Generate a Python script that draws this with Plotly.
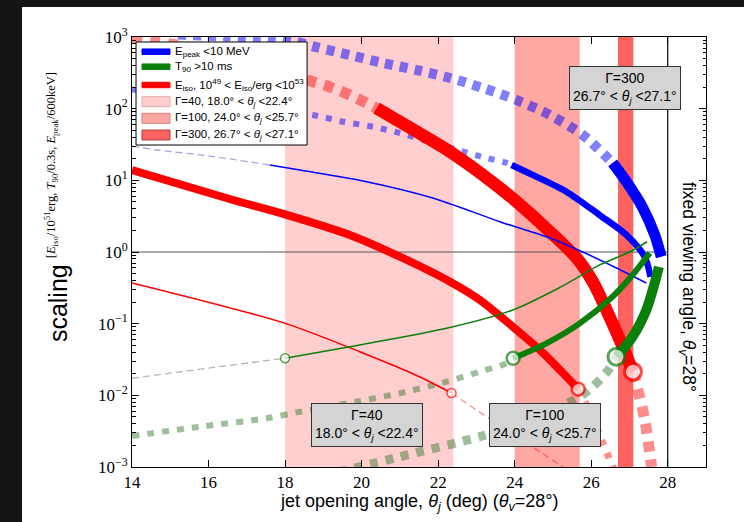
import plotly.graph_objects as go

# ------------------------------------------------------------------ data
theta_v = 28.0
y_unity = 1.0
band_g40 = (18.0, 22.4)
band_g100 = (24.0, 25.7)
band_g300 = (26.7, 27.1)

# Gamma = 40 (thin lines)
epk40_out_t = [14.0, 14.65, 16.0, 17.6]
epk40_out_y = [30.1, 26.5, 21.9, 16.4]
epk40_in_t = [17.6, 18.39, 20.13, 21.86, 23.61, 24.92, 25.78, 26.66, 27.44]
epk40_in_y = [16.4, 13.9, 9.57, 5.67, 2.65, 1.57, 1.0, 0.598, 0.369]
t90_40_out_t = [14.0, 16.0, 18.0]
t90_40_out_y = [0.0173, 0.0240, 0.0329]
t90_40_in_t = [18.0, 19.95, 22.22, 23.95, 25.18, 26.22, 27.0, 27.46]
t90_40_in_y = [0.0329, 0.0504, 0.0861, 0.155, 0.32, 0.66, 1.0, 1.39]
eiso40_in_t = [14.0, 18.0, 19.95, 21.34, 22.35]
eiso40_in_y = [0.37, 0.101, 0.0406, 0.020, 0.0108]
eiso40_out_t = [22.35, 23.04, 23.87, 24.79, 25.26]
eiso40_out_y = [0.0108, 0.00605, 0.00308, 0.00147, 0.001]

# Gamma = 100 (medium lines)
epk100_out_t = [14.0, 16.0, 18.73, 19.52, 20.29, 21.0, 21.78, 22.57, 23.26, 23.79, 23.92]
epk100_out_y = [185, 140, 81.6, 65.8, 56.0, 45.7, 34.6, 26.0, 20.5, 17.5, 16.4]
epk100_in_t = [23.92, 24.47, 25.35, 26.22, 26.92, 27.40, 27.55]
epk100_in_y = [16.4, 11.9, 6.94, 3.28, 1.73, 0.85, 0.45]
t90_100_out_t = [14.0, 15.78, 17.52, 18.39, 19.87, 21.0, 22.22, 23.09, 23.79, 23.96]
t90_100_out_y = [0.00271, 0.00365, 0.00478, 0.00591, 0.00815, 0.0107, 0.0155, 0.0214, 0.0280, 0.0329]
t90_100_in_t = [23.96, 24.83, 25.70, 26.56, 27.08, 27.53]
t90_100_in_y = [0.0329, 0.0532, 0.101, 0.238, 0.477, 0.968]
eiso100_in_t = [14.0, 16.64, 18.04, 19.69, 21.0, 22.31, 23.09, 23.95, 24.66, 25.26, 25.66]
eiso100_in_y = [13.9, 5.32, 3.3, 1.73, 0.859, 0.385, 0.214, 0.0907, 0.0429, 0.0205, 0.0122]
eiso100_out_t = [25.66, 26.0, 26.3, 26.6]
eiso100_out_y = [0.0122, 0.0055, 0.0022, 0.0009]

# Gamma = 300 (thick lines)
epk300_out_t = [15.2, 16.5, 17.6, 18.3, 18.82, 19.69, 20.56, 21.44, 22.31, 23.17, 24.05, 24.92, 25.78, 26.56]
epk300_out_y = [1080, 1010, 960, 850, 720, 561, 434, 346, 268, 194, 132, 81.6, 42.9, 17.5]
epk300_in_t = [26.56, 26.92, 27.35, 27.66, 27.83]
epk300_in_y = [17.5, 9.57, 4.11, 1.73, 0.859]
t90_300_out_t = [19.4, 21.0, 23.09, 24.5, 25.70, 26.04, 26.30, 26.48, 26.66]
t90_300_out_y = [0.00085, 0.00139, 0.00265, 0.00468, 0.00957, 0.0132, 0.0182, 0.0238, 0.0346]
t90_300_in_t = [26.66, 27.08, 27.44, 27.66, 27.77]
t90_300_in_y = [0.0346, 0.0658, 0.155, 0.37, 0.62]
eiso300_out_t = [14.0, 15.25, 16.56, 17.87, 18.73, 19.25, 19.69, 20.13, 20.39]
eiso300_out_y = [960, 760, 540, 340, 238, 194, 155, 120, 102]
eiso300_in_t = [20.39, 21.44, 22.31, 23.17, 24.05, 24.92, 25.62, 26.04, 26.40, 26.82, 27.09]
eiso300_in_y = [102, 47.7, 25.1, 11.9, 5.04, 1.92, 0.825, 0.385, 0.155, 0.0485, 0.0214]
eiso300_out2_t = [27.09, 27.19, 27.40, 27.58]
eiso300_out2_y = [0.0214, 0.0139, 0.00453, 0.001]

# boundary markers (open circles)
t90_mark_t = [18.0, 23.96, 26.66]
t90_mark_y = [0.0329, 0.0329, 0.0346]
eiso_mark_t = [22.35, 25.66, 27.09]
eiso_mark_y = [0.0108, 0.0122, 0.0214]

ytick_vals = [1e-3, 1e-2, 1e-1, 1e0, 1e1, 1e2, 1e3]
ytick_text = ["10<sup>−3</sup>", "10<sup>−2</sup>", "10<sup>−1</sup>", "10<sup>0</sup>",
              "10<sup>1</sup>", "10<sup>2</sup>", "10<sup>3</sup>"]
xtick_vals = [14, 16, 18, 20, 22, 24, 26, 28]

legend_labels = [
    "E<sub>peak</sub> &lt;10 MeV",
    "T<sub>90</sub> &gt;10 ms",
    "E<sub>iso</sub>, 10<sup>49</sup> &lt; E<sub>iso</sub>/erg &lt;10<sup>53</sup>",
    "Γ=40, 18.0° &lt; <i>θ<sub>j</sub></i> &lt;22.4°",
    "Γ=100, 24.0° &lt; <i>θ<sub>j</sub></i> &lt;25.7°",
    "Γ=300, 26.7° &lt; <i>θ<sub>j</sub></i> &lt;27.1°",
]

# ------------------------------------------------------------------ style
BLUE, GREEN, RED = "#0000ff", "#0a800a", "#ff0000"
BLUE_L = "rgba(0,0,255,0.5)"
GREEN_L = "rgba(40,110,40,0.45)"
RED_L = "rgba(255,0,0,0.45)"
BLUE_T = "rgba(60,60,180,0.45)"
GREEN_T = "rgba(80,100,80,0.45)"
RED_T = "rgba(255,0,0,0.45)"
BAND40, BAND100, BAND300 = "#ffcfcf", "#ffa7a3", "#fd625e"
SERIF = "Liberation Serif"
SANS = "Liberation Sans"

fig = go.Figure()


def seg(t, y, color, width, dash="solid"):
    fig.add_trace(go.Scatter(
        x=t, y=y, mode="lines", showlegend=False, hoverinfo="skip",
        line=dict(color=color, width=width, dash=dash, shape="spline", smoothing=0.8)))


# out-of-range (dashed / dotted) parts
seg(epk40_out_t, epk40_out_y, BLUE_T, 1.3, "7px,4px")
seg(t90_40_out_t, t90_40_out_y, GREEN_T, 1.3, "7px,4px")
seg(eiso40_out_t, eiso40_out_y, RED_T, 1.3, "7px,4px")
seg(epk100_out_t, epk100_out_y, BLUE_L, 6, "6px,8px")
seg(t90_100_out_t, t90_100_out_y, GREEN_L, 6, "7px,8px")
seg(eiso100_out_t, eiso100_out_y, RED_L, 7, "6px,8px")
seg(epk300_out_t, epk300_out_y, BLUE_L, 10, "8px,7px")
seg(t90_300_out_t, t90_300_out_y, GREEN_L, 9, "8px,8px")
seg(eiso300_out_t, eiso300_out_y, RED_L, 11, "10px,8px")
seg(eiso300_out2_t, eiso300_out2_y, RED_L, 11, "10px,8px")

# allowed (solid) parts
seg(eiso40_in_t, eiso40_in_y, RED, 1.5)
seg(eiso100_in_t, eiso100_in_y, RED, 8)
seg(eiso300_in_t, eiso300_in_y, RED, 12.5)
seg(epk40_in_t, epk40_in_y, BLUE, 1.5)
seg(epk100_in_t, epk100_in_y, BLUE, 6.5)
seg(epk300_in_t, epk300_in_y, BLUE, 11)
seg(t90_40_in_t, t90_40_in_y, GREEN, 1.5)
seg(t90_100_in_t, t90_100_in_y, GREEN, 6)
seg(t90_300_in_t, t90_300_in_y, GREEN, 10)

# boundary circles
fig.add_trace(go.Scatter(
    x=t90_mark_t, y=t90_mark_y, mode="markers", showlegend=False, hoverinfo="skip",
    marker=dict(symbol="circle", color="white", size=[9, 13, 17],
                line=dict(color=GREEN, width=[1.5, 2.5, 3]))))
fig.add_trace(go.Scatter(
    x=eiso_mark_t, y=eiso_mark_y, mode="markers", showlegend=False, hoverinfo="skip",
    marker=dict(symbol="circle", color="white", size=[9, 13, 17],
                line=dict(color=RED, width=[1.5, 2.5, 3]))))

# ------------------------------------------------------------------ shapes
shapes = [
    dict(type="rect", xref="paper", yref="paper", x0=-0.1916, x1=1.08, y0=-0.2, y1=1.0698,
         fillcolor="white", line=dict(width=0), layer="below"),
]
for (a, b), col in [(band_g40, BAND40), (band_g100, BAND100), (band_g300, BAND300)]:
    shapes.append(dict(type="rect", xref="x", yref="paper", x0=a, x1=b, y0=0, y1=1,
                       fillcolor=col, line=dict(width=0), layer="below"))
shapes.append(dict(type="line", xref="x", yref="y", x0=14, x1=theta_v, y0=y_unity, y1=y_unity,
                   line=dict(color="#555555", width=1), layer="below"))
shapes.append(dict(type="line", xref="x", yref="paper", x0=theta_v, x1=theta_v, y0=0, y1=1,
                   line=dict(color="black", width=1.2), layer="below"))

# legend box (drawn by hand, on top of the curves)
shapes.append(dict(type="rect", xref="paper", yref="paper", x0=0.007, x1=0.305,
                   y0=0.7488, y1=0.9884, fillcolor="white",
                   line=dict(color="black", width=1), layer="above"))
leg_y = [0.9658, 0.9309, 0.8884, 0.8495, 0.8109, 0.7721]
leg_fill = [BLUE, GREEN, RED, BAND40, BAND100, BAND300]
leg_edge = [BLUE, GREEN, RED, "#e0a8a8", "#d08480", "#a84440"]
leg_half = [0.0064, 0.0064, 0.0064, 0.0116, 0.0116, 0.0116]
for yc, fc, ec, hh in zip(leg_y, leg_fill, leg_edge, leg_half):
    shapes.append(dict(type="rect", xref="paper", yref="paper", x0=0.0174, x1=0.0662,
                       y0=yc - hh, y1=yc + hh, fillcolor=fc,
                       line=dict(color=ec, width=1), layer="above"))

box = dict(bgcolor="#d4d4d4", bordercolor="#333333", borderwidth=1, borderpad=3,
           font=dict(family=SANS, size=14, color="black"), showarrow=False,
           xref="paper", yref="paper", xanchor="center", yanchor="middle")
annotations = [
    dict(text="Γ=300<br>26.7° &lt; <i>θ<sub>j</sub></i> &lt;27.1°", x=0.859, y=0.881, **box),
    dict(text="Γ=40<br>18.0° &lt; <i>θ<sub>j</sub></i> &lt;22.4°", x=0.409, y=0.098, **box),
    dict(text="Γ=100<br>24.0° &lt; <i>θ<sub>j</sub></i> &lt;25.7°", x=0.7195, y=0.098, **box),
    dict(text="fixed viewing angle, <i>θ<sub>v</sub></i>=28°", x=0.9686, y=0.4186,
         xref="paper", yref="paper", showarrow=False, textangle=90,
         xanchor="center", yanchor="middle",
         font=dict(family=SANS, size=17.5, color="black")),
    dict(text="jet opening angle, <i>θ<sub>j</sub></i> (deg) (<i>θ<sub>v</sub></i>=28°)",
         x=0.5, y=-0.0825, xref="paper", yref="paper", showarrow=False,
         xanchor="center", yanchor="middle",
         font=dict(family=SANS, size=18, color="black")),
    dict(text="scaling", x=-0.129, y=0.381, xref="paper", yref="paper", showarrow=False,
         textangle=-90, xanchor="center", yanchor="middle",
         font=dict(family=SANS, size=25, color="black")),
    dict(text="[<i>E</i><sub>iso</sub>/10<sup>51</sup>erg, <i>T</i><sub>90</sub>/0.3s, "
              "<i>E</i><sub>peak</sub>/600keV]",
         x=-0.141, y=0.702, xref="paper", yref="paper", showarrow=False,
         textangle=-90, xanchor="center", yanchor="middle",
         font=dict(family=SERIF, size=12.5, color="black")),
]
for yc, lab in zip(leg_y, legend_labels):
    annotations.append(dict(text=lab, x=0.0714, y=yc, xref="paper", yref="paper",
                            showarrow=False, xanchor="left", yanchor="middle",
                            font=dict(family=SANS, size=11.5, color="black")))

minor_y = [k * 10.0 ** e for e in range(-3, 3) for k in range(2, 10)]

fig.update_layout(
    width=744, height=522,
    margin=dict(l=132, r=38, t=37, b=55),
    paper_bgcolor="#141414", plot_bgcolor="white",
    shapes=shapes, annotations=annotations,
    showlegend=False,
    xaxis=dict(range=[14, 29], tickvals=xtick_vals, ticks="inside", ticklen=7,
               tickcolor="black", showline=True, linecolor="black", linewidth=1,
               mirror="ticks", showgrid=False, zeroline=False,
               tickfont=dict(family=SERIF, size=17, color="black")),
    yaxis=dict(type="log", range=[-3, 3], tickvals=ytick_vals, ticktext=ytick_text,
               ticks="inside", ticklen=7, tickcolor="black", showline=True,
               linecolor="black", linewidth=1, mirror="ticks", showgrid=False,
               zeroline=False, tickfont=dict(family=SERIF, size=17, color="black"),
               minor=dict(tickvals=minor_y, ticks="inside", ticklen=3.5, tickcolor="black",
                          showgrid=False)),
)

fig.write_html("out.html", config={"displayModeBar": False},
               post_script="document.body.style.margin='0px';document.body.style.background='#141414';")
